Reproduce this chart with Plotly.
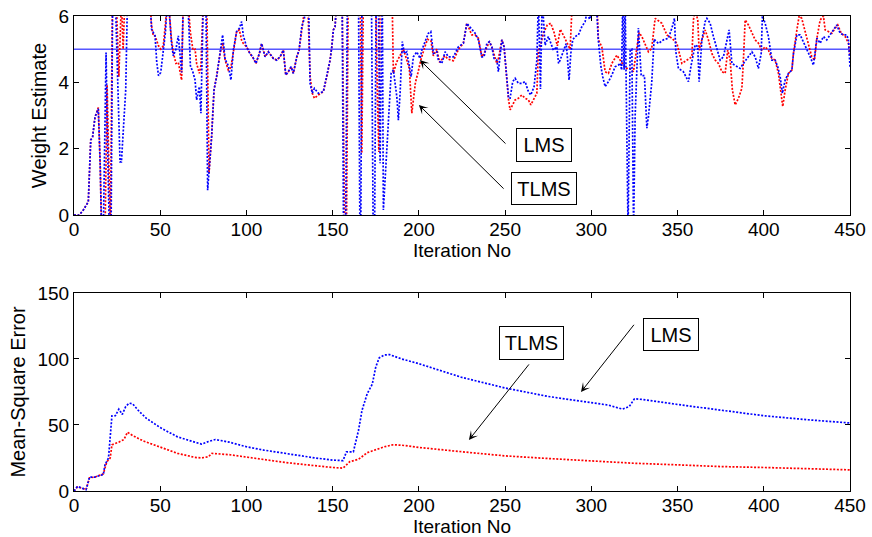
import plotly.graph_objects as go

# ---------------- data: weight estimate (top) ----------------
true_weight = 5.0

iter_w_lms = [0, 3, 5.4, 8.3, 9.7, 10.8, 12.2, 14.1, 15.2, 16, 17, 18.6, 19.5, 20.5, 21.5, 22.4, 24, 26.7, 27.5, 30, 31,
              44, 45, 46, 47, 48, 49, 50.3, 51.8, 53, 54, 55, 56.5, 57.6, 59.1, 60.5, 62.4, 63.4, 66, 67.5, 69, 70.2,
              71.1, 72.7, 73.6, 74.5, 75, 76.5, 77.5, 79.8, 81.2, 82.7, 84.7, 86.2, 87.6, 89.5, 91, 92.4, 94.3, 95.9,
              97.2, 98.2, 100.1, 102, 103.6, 105.5, 107.5, 108.8, 110.8, 112.7, 115.6, 117.6, 119.5, 121.4, 122.8,
              124.3, 125.9, 127.2, 129.2, 130.5, 132.1, 133.6, 135, 136, 136.9, 138.2, 139.4, 141.7, 144.6, 146.6,
              148.5, 149.5, 150.4, 151.4, 152.4, 155.5, 156.3, 157.5, 158.5, 165, 165.8, 166.3, 167, 172.5, 173.5,
              174.3, 175.2, 176.5, 177.5, 178.2, 178.8, 179.4, 182.3, 183.9, 185.2, 187.2, 188.1, 189.1, 190.4, 191.6,
              193, 194.3, 195.5, 196.8, 198.8, 200.7, 201.7, 203.6, 205.5, 206.9, 208.4, 210.4, 211.3, 213.3, 215.2,
              217.1, 220, 222.9, 225.8, 227.8, 230.7, 232.6, 234.5, 236.5, 237.8, 239.4, 240.9, 242.3, 243.6, 245.2,
              246.1, 248.1, 249.4, 251, 252, 252.9, 254.4, 255.8, 257.7, 259.7, 261.6, 263.5, 264.9, 266.8, 268.4,
              269.3, 270.5, 271.5, 273.2, 275.1, 278, 280, 281, 281.9, 283.8, 285.4, 286.1, 287.1, 288.1, 289.2,
              290.6, 292.5, 294.5, 296.4, 297.4, 299, 301.2, 303, 304, 305.5, 306.6, 308, 309.9, 311.9, 313.8, 315.7,
              316.7, 317.6, 318.2, 319, 319.6, 321.3, 322.5, 323.5, 324.5, 325.4, 327.3, 328.9, 330.8, 332.2, 333.1,
              335, 336.4, 338.9, 341.8, 344.7, 346.7, 348.2, 349, 350.5, 353.4, 356.3, 357.9, 360.2, 361.7, 362.5,
              364.1, 366, 367, 368.9, 370.8, 372.8, 374.7, 376.6, 378.6, 379.9, 381.5, 383.4, 386.3, 388.2, 391.1,
              393.1, 395, 396.9, 398.5, 399.2, 400.8, 402.7, 404.7, 406.6, 408.1, 409.5, 410.8, 412.4, 414.3, 416.3,
              417.2, 419.2, 421.1, 423, 425, 426.9, 428.8, 429.8, 430.8, 432.7, 434.6, 436.5, 438.5, 440.4, 442.3,
              444.3, 446.2, 448.1, 449.1, 450]
w_lms = [0, 0, 0.15, 0.4, 2.26, 2.36, 2.96, 3.2, 1.5, -0.5, -0.5, 4.9, 2.0, -0.5, -0.5, 6.5, 6.5, 1.6, 1.6, 3.78, 6.5,
         6.5, 5.6, 5.5, 5.4, 4.6, 4.2, 4.3, 4.9, 5.5, 6.3, 6.3, 5.2, 4.8, 5.0, 5.4, 4.3, 6.5, 6.5, 4.5, 4.3, 4.07,
         3.47, 3.87, 3.07, 5.0, 6.5, 6.5, 0.75, 2.36, 3.77, 4.17, 4.87, 5.43, 4.7, 4.5, 4.07, 4.97, 5.53, 5.63,
         5.83, 5.4, 5.07, 4.87, 4.77, 4.57, 4.87, 5.17, 4.77, 4.92, 4.72, 4.67, 4.77, 4.97, 4.22,
         4.32, 4.47, 4.27, 4.77, 4.97, 5.68, 5.93, 6.5, 6.5, 3.97, 3.67, 3.82, 3.67, 3.72, 4.17,
         4.67, 5.07, 5.58, 5.68, 6.5, 6.5, -0.5, -0.5, 6.5, 6.5, -0.5, -0.5, 6.5, 6.5, -0.5,
         -0.5, 6.5, 6.5, 1.56, 4.8, 6.5, 0.15, 2.66, 4.27, 4.37, 3.57, 2.86, 3.67, 5.23, 4.87,
         4.92, 4.57, 4.17, 4.77, 4.92, 4.72, 4.97, 5.23, 5.48, 5.53, 4.87, 4.92, 4.67, 4.57, 4.92,
         4.77, 4.77, 5.07, 5.18, 5.78, 5.58, 5.48, 5.28, 4.77, 4.77, 5.17, 5.23, 5.07, 4.72, 4.67,
         4.32, 5.28, 5.07, 4.17, 3.52, 3.52, 4.02, 4.12, 3.97, 3.97, 4.02, 3.72, 3.62, 3.87, 4.67,
         6.5, 3.8, 6.5, 5.12, 5.38, 4.97, 5.07, 4.57, 4.67, 4.97, 5.17, 4.77, 4.07, 4.87, 5.28,
         5.38, 5.43, 5.68, 5.83, 6.1, 5.9, 6.3, 6.3, 5.3, 4.5, 4.17, 3.87, 4.02, 4.22, 4.47, 4.52,
         4.58, 4.37, 6.5, 4.38, 6.5, -0.5, 4.98, 5.0, -0.5, 2.97, 5.64, 4.2, 4.2, 2.62, 2.96,
         3.98, 5.3, 5.17, 5.28, 5.33, 5.63, 5.93, 4.92, 4.42, 4.32, 4.02, 4.52, 5.13, 5.08, 4.02,
         5.28, 5.83, 5.93, 5.78, 5.38, 4.97, 4.67, 4.77, 5.28, 5.58, 4.57, 4.52, 4.42, 4.57, 4.77,
         4.92, 4.77, 4.42, 4.87, 6.0, 5.78, 5.38, 4.67, 4.67, 4.47, 4.17, 3.67, 4.07, 4.27, 4.37,
         4.87, 5.43, 5.43, 5.23, 4.97, 4.77, 4.52, 4.87, 5.33, 5.18, 5.38, 5.28, 5.43, 5.58, 5.73,
         5.48, 5.43, 5.43, 5.28, 4.47]

iter_w_tlms = [0, 3, 5.4, 8.3, 9.7, 10.8, 12.2, 14.1, 15.2, 16, 18, 19.2, 20, 21.1, 22.3, 24.5, 26, 27.5, 28.5, 29.5,
               44, 45, 46, 47, 49, 50.3, 51.8, 53, 54, 55, 56.5, 57.6, 59.1, 60.5, 62.4, 63.4, 66, 67.5, 69, 70.2,
               71.1, 72.7, 73.6, 75, 77, 78.3, 79.8, 81.2, 82.7, 84.7, 86.2, 87.6, 89.5, 91, 92.4, 94.3, 95.9, 97.2,
               98.2, 100.1, 102, 103.6, 105.5, 107.5, 108.8, 110.8, 112.7, 115.6, 117.6, 119.5, 121.4, 122.8, 124.3,
               125.9, 127.2, 129.2, 130.5, 132.1, 133.6, 134.5, 135.5, 136.9, 138.2, 139.4, 141.7, 144.6, 146.6,
               148.5, 149.5, 150.4, 151.4, 152.4, 155.5, 157, 158, 159, 166, 166.9, 167.8, 175, 176, 176.8, 177.5,
               184.5, 185.2, 187, 189, 191, 193, 194.5, 195.9, 197, 198, 199.5, 201, 203, 205, 207, 208.4, 210.4,
               212, 215, 217, 220, 223, 225.8, 227.8, 230.7, 232.6, 234.5, 236.5, 237.8, 239.4, 240.9, 242.3, 243.6,
               245.2, 246.1, 248.1, 249.4, 251, 252, 252.9, 254.4, 255.8, 257.7, 259.7, 261.6, 263.5, 264.9, 266.8,
               268.4, 269.3, 270.3, 272.2, 274.5, 276.5, 278.4, 280.3, 282, 284, 286, 287.7, 289, 303.2, 304.1,
               306.1, 308, 309.9, 311.9, 314.8, 316.7, 318.6, 320.5, 322.5, 324.4, 326.3, 327.7, 329.3, 331.2, 333.1,
               335, 337, 340.9, 343.8, 346.7, 349.6, 352.5, 355.4, 358.3, 359.2, 360.2, 361.7, 362.5, 364.1, 366,
               367.9, 369.9, 371.8, 373.7, 375.7, 377.6, 379.1, 380.5, 381.8, 383.4, 385.3, 387.3, 388.2, 389.2,
               391.1, 393.1, 395, 396.9, 398.9, 400.8, 402.7, 404.7, 406.6, 408.5, 410.1, 411, 412.4, 414.3, 416.3,
               417.2, 419.2, 420.5, 422, 424, 425.9, 427.8, 429.4, 430.8, 432.7, 434.6, 435.6, 437.5, 439.5, 441.4,
               442.9, 444.9, 447.2, 449.1, 450]
w_tlms = [0, 0, 0.15, 0.4, 2.26, 2.36, 2.96, 3.24, 1.5, -0.5, -0.5, 3.93, 2.0, -0.5, 6.5, 6.5, 4.17, 6.5, 5.0, 6.5,
          6.5, 5.7, 5.4, 5.4, 5.1, 5.0, 5.1, 5.7, 6.3, 6.3, 5.3, 4.9, 4.57, 4.6, 4.07, 6.5, 6.5, 5.5, 4.97, 5.0,
          4.57, 4.27, 4.5, 6.5, 6.5, 1.26, 2.36, 3.77, 4.17, 4.87, 5.2, 4.67, 4.37, 4.45, 4.97, 5.53, 5.58, 5.27,
          5.17, 5.07, 4.87, 4.77, 4.57, 4.87, 5.17, 4.77, 4.92, 4.72, 4.67, 4.77, 4.97, 4.22, 4.32,
          4.47, 4.27, 4.77, 4.97, 5.68, 6.2, 6.5, 6.5, 4.17, 3.67, 3.52, 3.62, 3.72, 4.17,
          4.67, 5.07, 5.58, 5.68, 6.5, 6.5, -0.5, -0.5, 6.5, 6.5, 1.86, 6.5, 6.5, 3.4, 1.9, 6.5,
          6.5, 4.27, 4.6, 4.8, 5.0, 4.67, 4.4, 3.07, 3.6, 4.0, 4.3, 4.65, 5.0, 5.3, 5.25, 4.8, 5.0,
          4.6, 4.8, 4.7, 4.65, 5.0, 5.18, 5.78, 5.43, 5.43, 5.33, 4.77, 4.87, 5.07, 5.23, 5.07, 4.87,
          4.57, 4.7, 5.28, 5.07, 4.07, 3.47, 3.17, 3.32, 3.47, 3.52, 3.62, 3.52, 3.47, 3.32, 3.52,
          3.67, 4.97, 5.07, 5.48, 5.73, 5.78, 5.5, 5.1, 5.6, 5.4, 5.2, 5.0, 6.5, 6.5, 5.28,
          5.07, 4.32, 4.27, 4.57, 4.82, 4.67, 4.52, 4.42, 4.42, 4.32, 5.07, 5.5, 5.38, 5.13, 4.92,
          5.02, 5.93, 5.78, 5.43, 5.33, 5.18, 4.57, 4.67, 4.77, 5.88, 6.2, 5.88, 4.97, 5.28, 5.58,
          5.28, 4.87, 4.67, 4.57, 4.32, 4.27, 4.97, 4.67, 3.77, 3.32, 3.52, 3.82, 4.67, 5.88,
          5.73, 5.48, 5.28, 5.18, 4.97, 5.07, 4.97, 4.72, 4.67, 4.27, 3.67, 3.27, 3.77, 4.27, 4.37,
          4.87, 5.58, 6.0, 5.93, 5.53, 5.18, 4.77, 4.67, 5.33, 5.88, 6.0, 5.58, 5.53, 5.48, 5.63,
          5.73, 5.48, 5.38, 5.18, 4.77]

# ---------------- data: mean-square error (bottom) ----------------
iter_mse_lms = [0, 2, 5, 7, 9, 12, 17, 18, 20, 22, 24, 26, 28, 30, 32, 34, 38, 42, 50, 60, 70, 74, 78, 82, 90, 100,
                110, 120, 130, 140, 150, 156, 158, 162, 165, 167, 170, 173, 175, 177, 180, 183, 190, 200, 225, 250,
                275, 300, 310, 318, 322, 325, 330, 350, 375, 400, 425, 450]
mse_lms = [0, 3.5, 2, 1, 10.5, 10.5, 12.5, 20, 25, 57, 57, 62, 58, 64, 66.5, 66, 60, 55, 48, 41, 37, 35.5, 37.5, 39,
           37, 33.5, 31, 29, 26.5, 25, 23.4, 23, 29.7, 29.7, 46, 61, 73.6, 81, 94, 100.8, 103, 103.3, 100, 96.4,
           86, 78, 71.6, 66.8, 65, 62, 64, 69.8, 69.3, 65.5, 61, 57, 54, 51.5]

iter_mse_tlms = [0, 2, 5, 7, 9, 12, 17, 19, 21, 22, 26, 29, 31, 34, 40, 50, 60, 70, 74, 78, 80, 90, 100, 110, 120,
                 130, 140, 150, 156, 160, 165, 170, 180, 185, 190, 200, 225, 250, 275, 300, 325, 350, 375, 400, 425,
                 450]
mse_tlms = [0, 3, 2, 1, 10, 10.5, 13, 22, 25, 35, 37, 39, 44.5, 42, 38, 33.5, 28.5, 25.5, 25, 26, 28.5, 27.5, 25.5,
            23.5, 22, 20.5, 19, 17.8, 17.3, 22.3, 24, 29, 33.5, 35, 34.7, 33, 29.7, 26.6, 24.6, 22.8, 21, 19.8, 18.5,
            17.8, 16.8, 16]

assert len(iter_w_lms) == len(w_lms), (len(iter_w_lms), len(w_lms))
assert len(iter_w_tlms) == len(w_tlms), (len(iter_w_tlms), len(w_tlms))
assert len(iter_mse_lms) == len(mse_lms)
assert len(iter_mse_tlms) == len(mse_tlms)

x_ticks = [0, 50, 100, 150, 200, 250, 300, 350, 400, 450]
w_ticks = [0, 2, 4, 6]
mse_ticks = [0, 50, 100, 150]

RED = "#ff0000"
BLUE = "#0000ff"
FONT = "Liberation Sans, Arial, sans-serif"
dotline = dict(width=1.7, dash="2px,1.6px")

fig = go.Figure()
fig.add_trace(go.Scatter(x=[0, 450], y=[true_weight, true_weight], mode="lines",
                         line=dict(color=BLUE, width=1), xaxis="x", yaxis="y", showlegend=False))
fig.add_trace(go.Scatter(x=iter_w_tlms, y=w_tlms, mode="lines", line=dict(color=RED, **dotline),
                         xaxis="x", yaxis="y", name="TLMS", showlegend=False))
fig.add_trace(go.Scatter(x=iter_w_lms, y=w_lms, mode="lines", line=dict(color=BLUE, **dotline),
                         xaxis="x", yaxis="y", name="LMS", showlegend=False))
fig.add_trace(go.Scatter(x=iter_mse_tlms, y=mse_tlms, mode="lines", line=dict(color=RED, **dotline),
                         xaxis="x2", yaxis="y2", name="TLMS", showlegend=False))
fig.add_trace(go.Scatter(x=iter_mse_lms, y=mse_lms, mode="lines", line=dict(color=BLUE, **dotline),
                         xaxis="x2", yaxis="y2", name="LMS", showlegend=False))

axis_common = dict(showline=True, linecolor="black", linewidth=1, mirror="ticks", ticks="inside",
                   ticklen=5, tickcolor="black", showgrid=False, zeroline=False, automargin=False,
                   tickfont=dict(family=FONT, size=19, color="black"))
xa = dict(axis_common, range=[0, 450], tickvals=x_ticks, ticklabelstandoff=-3,
          title=dict(text="Iteration No", font=dict(family=FONT, size=19, color="black"), standoff=1))

fig.update_layout(
    template="none",
    width=872, height=537,
    margin=dict(l=74, r=22, t=16, b=46),
    paper_bgcolor="white", plot_bgcolor="white",
    xaxis=dict(xa, domain=[0, 1], anchor="y"),
    yaxis=dict(axis_common, domain=[0.581, 1], range=[0, 6], tickvals=w_ticks, anchor="x",
               title=dict(text="Weight Estimate", font=dict(family=FONT, size=20, color="black"), standoff=6)),
    xaxis2=dict(xa, domain=[0, 1], anchor="y2"),
    yaxis2=dict(axis_common, domain=[0, 0.417], range=[0, 150], tickvals=mse_ticks, anchor="x2",
                title=dict(text="Mean-Square Error", font=dict(family=FONT, size=20, color="black"), standoff=6)),
)

box = dict(showarrow=False, bgcolor="white", bordercolor="black", borderwidth=1, borderpad=0,
           font=dict(family=FONT, size=20, color="black"))
arrow = dict(text="", showarrow=True, arrowhead=3, arrowsize=1.5, arrowwidth=1, arrowcolor="black")

annotations = [
    # top plot boxes
    dict(box, x=272.6, y=2.11, xref="x", yref="y", text="LMS", width=54, height=32),
    dict(box, x=272.6, y=0.80, xref="x", yref="y", text="TLMS", width=64, height=31),
    # top plot arrows
    dict(arrow, x=200.6, y=4.67, ax=251.1, ay=2.11, xref="x", yref="y", axref="x", ayref="y"),
    dict(arrow, x=200.0, y=3.32, ax=250.0, ay=0.75, xref="x", yref="y", axref="x", ayref="y"),
    # bottom plot boxes
    dict(box, x=265.4, y=112.1, xref="x2", yref="y2", text="TLMS", width=63, height=32),
    dict(box, x=346.3, y=118.6, xref="x2", yref="y2", text="LMS", width=54, height=31),
    # bottom plot arrows
    dict(arrow, x=229.0, y=38.6, ax=264.5, ay=97.0, xref="x2", yref="y2", axref="x2", ayref="y2"),
    dict(arrow, x=294.0, y=75.0, ax=325.4, ay=127.0, xref="x2", yref="y2", axref="x2", ayref="y2"),
]
fig.update_layout(annotations=annotations)

fig.write_html("out.html")
